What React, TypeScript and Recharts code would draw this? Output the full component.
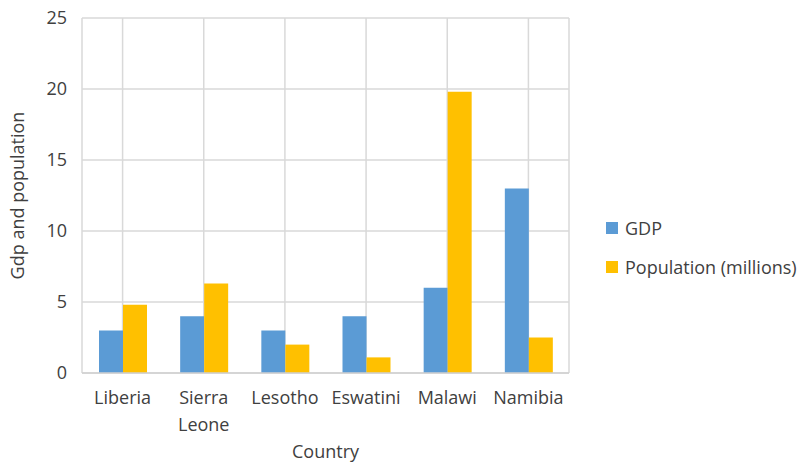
import React from "react";
import { BarChart, Bar, XAxis, YAxis, CartesianGrid, Label } from "recharts";

const countries = ["Liberia", "Sierra Leone", "Lesotho", "Eswatini", "Malawi", "Namibia"];
const gdp = [3, 4, 3, 4, 6, 13];
const population = [4.8, 6.3, 2, 1.1, 19.8, 2.5];
const yTicks = [0, 5, 10, 15, 20, 25];
const seriesNames = ["GDP", "Population (millions)"];
const seriesColors = ["#5B9BD5", "#FFC000"];

const data = countries.map((c, i) => ({ country: c, gdp: gdp[i], population: population[i] }));

const FONT = "'Open Sans', sans-serif";
const TEXT = "#404040";
const FS = 18;

const XTick = (props: any) => {
  const { x, y, payload } = props;
  const words = String(payload.value).split(" ");
  return (
    <g>
      {words.map((w, i) => (
        <text key={i} x={x} y={y + 23 + i * 27} textAnchor="middle" fill={TEXT} fontSize={FS} fontFamily={FONT}>
          {w}
        </text>
      ))}
    </g>
  );
};

export default function App() {
  return (
    <div style={{ position: "absolute", left: 0, top: 0, width: 804, height: 464, background: "#fff" }}>
      <BarChart
        width={804}
        height={464}
        data={data}
        margin={{ top: 18, right: 235, bottom: 0, left: 0 }}
        barGap={0}
        barCategoryGap={17}
      >
        <CartesianGrid stroke="#d9d9d9" strokeWidth={1.5} vertical={true} horizontal={true} />
        <XAxis
          dataKey="country"
          height={91}
          tick={<XTick />}
          tickLine={false}
          axisLine={{ stroke: "#d0d0d0", strokeWidth: 1.5 }}
          interval={0}
        >
          <Label value="Country" position="insideBottom" offset={6} fill={TEXT} fontSize={FS} fontFamily={FONT} />
        </XAxis>
        <YAxis
          width={82}
          domain={[0, 25]}
          ticks={yTicks}
          tickLine={false}
          axisLine={false}
          tickSize={0}
          tickMargin={15}
          tick={{ fill: TEXT, fontSize: FS, fontFamily: FONT }}
          interval={0}
        >
          <Label
            value="Gdp and population"
            angle={-90}
            position="insideLeft"
            offset={18}
            style={{ textAnchor: "middle" }}
            fill={TEXT}
            fontSize={FS}
            fontFamily={FONT}
          />
        </YAxis>
        <Bar dataKey="gdp" name={seriesNames[0]} fill={seriesColors[0]} isAnimationActive={false} />
        <Bar dataKey="population" name={seriesNames[1]} fill={seriesColors[1]} isAnimationActive={false} />
      </BarChart>
      <div style={{ position: "absolute", left: 606, top: 217, fontFamily: FONT, fontSize: FS, color: TEXT }}>
        {seriesNames.map((n, i) => (
          <div key={n} style={{ display: "flex", alignItems: "center", height: 22, marginTop: i === 0 ? 0 : 17 }}>
            <span style={{ width: 12, height: 12, background: seriesColors[i], display: "inline-block", marginRight: 7 }} />
            <span style={{ whiteSpace: "nowrap" }}>{n}</span>
          </div>
        ))}
      </div>
    </div>
  );
}
